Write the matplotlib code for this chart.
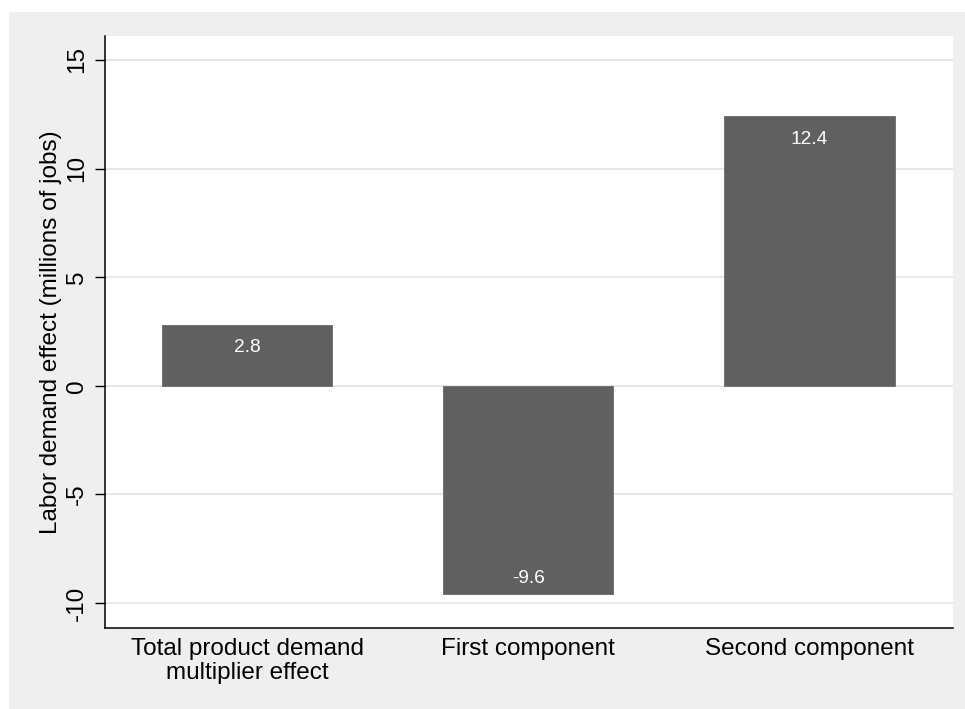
import matplotlib.pyplot as plt
from matplotlib.patches import Rectangle

# data
categories = ["Total product demand\nmultiplier effect", "First component", "Second component"]
values = [2.8, -9.6, 12.4]
labels = ["2.8", "-9.6", "12.4"]
yticks = [-10, -5, 0, 5, 10, 15]

plt.rcParams['font.family'] = ['Liberation Sans', 'DejaVu Sans']

fig = plt.figure(figsize=(9.65, 7.09), dpi=100, facecolor='white')
# grey outer panel like Stata
fig.add_artist(Rectangle((9 / 965, 0), 1, 1 - 12 / 709, transform=fig.transFigure,
                         facecolor='#efefef', edgecolor='none', zorder=-10))

ax = fig.add_axes([105 / 965, 81 / 709, 848 / 965, 592 / 709])
ax.set_facecolor('white')

x = list(range(len(categories)))
bars = ax.bar(x, values, width=0.605, color='#606060', edgecolor='#6a6a6a', linewidth=0.6, zorder=2)

# value labels inside the bars
for xi, v, lab in zip(x, values, labels):
    off = -16.5 if v > 0 else 11.5
    ax.annotate(lab, (xi, v), xytext=(0, off), textcoords='offset points',
                ha='center', va='center', color='white', fontsize=13.8, zorder=3)

ax.set_xlim(-0.505, 2.51)
ax.set_ylim(-11.15, 16.1)
ax.set_yticks(yticks)
ax.set_yticklabels([str(t) for t in yticks], rotation=90, va='center')
ax.set_xticks(x)
ax.set_xticklabels(categories, fontsize=17.5, linespacing=1.12)
ax.tick_params(axis='y', labelsize=17.5, length=7.2, width=1.0, pad=5)
ax.tick_params(axis='x', length=0, pad=7)

ax.grid(axis='y', color='#e8e8e8', linewidth=1.4, zorder=0)
ax.set_axisbelow(True)

for s in ['top', 'right']:
    ax.spines[s].set_visible(False)
for s in ['left', 'bottom']:
    ax.spines[s].set_linewidth(1.1)
    ax.spines[s].set_color('black')

ax.set_ylabel('Labor demand effect (millions of jobs)', fontsize=17.5)
ax.yaxis.set_label_coords(-0.051, 0.5)

fig.savefig('out.png', dpi=100, facecolor=fig.get_facecolor())
